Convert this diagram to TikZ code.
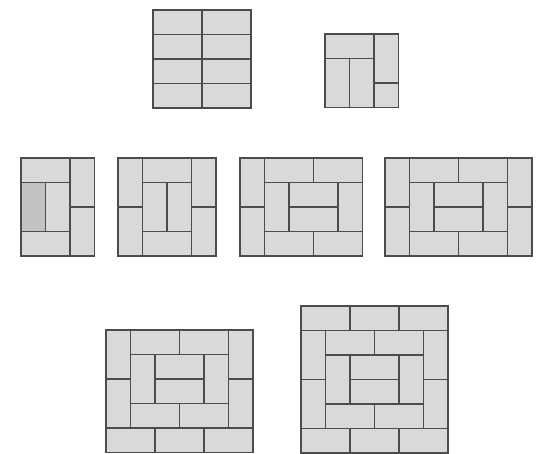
\documentclass[tikz,border=0pt]{standalone}
\begin{document}
\begin{tikzpicture}[x=0.03cm,y=-0.03cm,
        tile/.style={fill=black!15, draw=black!70, line width=1pt},
        dark tile/.style={tile, fill=black!24},
        grid at/.style={shift={#1}, x=0.735cm, y=-0.735cm}]
        \tikzset{brick row/.pic={
            \foreach \c in {0,2,4}
                \draw[tile] (\c,0) rectangle ++(2,1);
        }}
        \tikzset{ring/.pic={
            \foreach \c in {0,5}{
                \draw[tile] (\c,0) rectangle ++(1,2);
                \draw[tile] (\c,2) rectangle ++(1,2);
            }
            \foreach \r in {0,3}{
                \draw[tile] (1,\r) rectangle ++(2,1);
                \draw[tile] (3,\r) rectangle ++(2,1);
            }
            \draw[tile] (1,1) rectangle ++(1,2);
            \draw[tile] (4,1) rectangle ++(1,2);
            \draw[tile] (2,1) rectangle ++(2,1);
            \draw[tile] (2,2) rectangle ++(2,1);
        }}
        \useasboundingbox (0,0) rectangle (538,453);

        % 4 by 4, all horizontal.
        \begin{scope}[grid at={(153,10)}]
            \foreach \r in {0,...,3}
                \foreach \c in {0,2}
                    \draw[tile] (\c,\r) rectangle ++(2,1);
        \end{scope}

        % 3 by 3 with one square.
        \begin{scope}[grid at={(325,34)}]
            \draw[tile] (0,0) rectangle ++(2,1);
            \draw[tile] (2,0) rectangle ++(1,2);
            \draw[tile] (0,1) rectangle ++(1,2);
            \draw[tile] (1,1) rectangle ++(1,2);
            \draw[tile] (2,2) rectangle ++(1,1);
        \end{scope}

        % 3 by 4.
        \begin{scope}[grid at={(21,158)}]
            \draw[tile] (0,0) rectangle ++(2,1);
            \draw[tile] (2,0) rectangle ++(1,2);
            \draw[tile] (2,2) rectangle ++(1,2);
            \draw[dark tile] (0,1) rectangle ++(1,2);
            \draw[tile] (1,1) rectangle ++(1,2);
            \draw[tile] (0,3) rectangle ++(2,1);
        \end{scope}

        % 4 by 4.
        \begin{scope}[grid at={(118,158)}]
            \foreach \c in {0,3}{
                \draw[tile] (\c,0) rectangle ++(1,2);
                \draw[tile] (\c,2) rectangle ++(1,2);
            }
            \draw[tile] (1,0) rectangle ++(2,1);
            \draw[tile] (1,1) rectangle ++(1,2);
            \draw[tile] (2,1) rectangle ++(1,2);
            \draw[tile] (1,3) rectangle ++(2,1);
        \end{scope}

        % 5 by 4.
        \begin{scope}[grid at={(240,158)}]
            \draw[tile] (0,0) rectangle ++(1,2);
            \draw[tile] (0,2) rectangle ++(1,2);
            \foreach \r in {0,3}{
                \draw[tile] (1,\r) rectangle ++(2,1);
                \draw[tile] (3,\r) rectangle ++(2,1);
            }
            \draw[tile] (1,1) rectangle ++(1,2);
            \draw[tile] (2,1) rectangle ++(2,1);
            \draw[tile] (2,2) rectangle ++(2,1);
            \draw[tile] (4,1) rectangle ++(1,2);
        \end{scope}

        % 6 by 4.
        \begin{scope}[grid at={(385,158)}]
            \pic at (0,0) {ring};
        \end{scope}

        % 6 by 5.
        \begin{scope}[grid at={(106,330)}]
            \pic at (0,0) {ring};
            \pic at (0,4) {brick row};
        \end{scope}

        % 6 by 6.
        \begin{scope}[grid at={(301,306)}]
            \pic at (0,0) {brick row};
            \pic at (0,1) {ring};
            \pic at (0,5) {brick row};
        \end{scope}
    \end{tikzpicture}
\end{document}
